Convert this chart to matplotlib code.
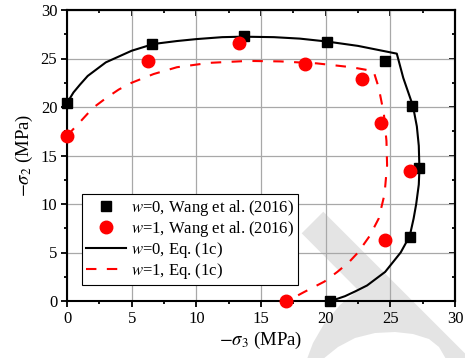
import matplotlib
matplotlib.use("Agg")
import matplotlib.pyplot as plt
from matplotlib.ticker import MultipleLocator
from matplotlib.patches import Polygon
from matplotlib.transforms import IdentityTransform

# Wang et al. (2016) test points, -sigma3 / -sigma2 in MPa
s3_w0 = [0.0, 6.6, 13.7, 20.1, 24.6, 26.7, 27.2, 26.5, 20.3]
s2_w0 = [20.4, 26.5, 27.3, 26.7, 24.7, 20.1, 13.7, 6.6, 0.0]
s3_w1 = [0.0, 6.3, 13.3, 18.4, 22.8, 24.3, 26.5, 24.6, 16.9]
s2_w1 = [17.0, 24.7, 26.6, 24.4, 22.9, 18.4, 13.4, 6.3, 0.0]

# Eq. (1c) envelopes
eq_s3_w0 = [0.0, 0.5, 1.0, 1.6, 2.2, 3.0, 4.0, 5.0, 6.7, 8.5, 10.0, 12.0, 13.6,
            16.0, 18.0, 20.1, 22.5, 25.5, 26.0, 26.75, 27.05, 27.2, 27.25, 27.2,
            27.0, 26.8, 26.5, 25.8, 25.2, 24.6, 23.8, 23.2, 22.3, 21.5, 20.4]
eq_s2_w0 = [20.4, 21.5, 22.3, 23.2, 23.8, 24.6, 25.2, 25.8, 26.5, 26.8, 27.0,
            27.2, 27.25, 27.2, 27.05, 26.75, 26.3, 25.5, 23.0, 20.1, 18.0, 16.0,
            13.6, 12.0, 10.0, 8.5, 6.7, 5.0, 4.0, 3.0, 2.2, 1.6, 1.0, 0.5, 0.0]
eq_s3_w1 = [0.0, 0.4, 0.9, 2.0, 3.0, 4.0, 5.0, 6.7, 8.5, 11.0, 14.0, 16.5, 19.3,
            22.0, 23.7, 24.1, 24.5, 24.7, 24.75, 24.55, 24.1, 23.4, 22.5, 21.8,
            20.9, 19.9, 18.3, 17.6, 17.0]
eq_s2_w1 = [17.0, 17.6, 18.3, 19.9, 20.9, 21.8, 22.5, 23.4, 24.1, 24.55, 24.75,
            24.7, 24.5, 24.1, 23.7, 22.0, 19.3, 16.5, 14.0, 11.0, 8.5, 6.7, 5.0,
            4.0, 3.0, 2.0, 0.9, 0.4, 0.0]

plt.rcParams['font.family'] = ['Liberation Serif', 'DejaVu Serif']
plt.rcParams['mathtext.fontset'] = 'stix'

W, H = 465, 358
fig = plt.figure(figsize=(W / 100, H / 100), dpi=100)


def px(pts):
    # pixel coords measured from the top-left corner
    return [(x, H - y) for x, y in pts]


# faint grey stamp behind the plot: diagonal stroke plus an arch
stamp = [(301.7, 233.3), (323.3, 211.7), (466, 354.4), (466, 359),
         (446, 359), (439, 347), (429, 339), (413, 334), (395, 332),
         (375, 333), (355, 338), (338, 347), (323, 359), (307, 359),
         (313, 343), (324, 324), (340, 305), (358, 290)]
fig.patches.append(Polygon(px(stamp), closed=True, facecolor='#e4e4e4',
                           edgecolor='none', transform=IdentityTransform(),
                           zorder=-1))

ax = fig.add_axes([67 / W, 57 / H, 388 / W, 291 / H])
ax.patch.set_alpha(0)

ax.plot(eq_s3_w0, eq_s2_w0, '-', color='k', lw=1.5, zorder=3,
        label=r'$w$=0, Eq. (1c)')
ax.plot(eq_s3_w1, eq_s2_w1, '--', color='red', lw=1.5, dashes=(5, 5), zorder=3,
        label=r'$w$=1, Eq. (1c)')
ax.plot(s3_w0, s2_w0, 's', color='k', ms=7.7, clip_on=False, zorder=4,
        label=r'$w$=0, Wang et al. (2016)')
ax.plot(s3_w1, s2_w1, 'o', color='red', ms=9, clip_on=False, zorder=5,
        label=r'$w$=1, Wang et al. (2016)')

ax.set_xlim(0, 30)
ax.set_ylim(0, 30)
for axis in (ax.xaxis, ax.yaxis):
    axis.set_major_locator(MultipleLocator(5))
    axis.set_minor_locator(MultipleLocator(2.5))
ax.grid(True, which='major', color='#a8a8a8', lw=0.9)
ax.set_axisbelow(True)

ax.tick_params(which='both', direction='out', top=False, right=False,
               labelsize=12, width=1.3, pad=2.5)
ax.tick_params(which='major', length=4.5)
ax.tick_params(which='minor', length=2.5)
for sp in ax.spines.values():
    sp.set_linewidth(1.5)

# inward ticks on the top and right edges
top = ax.secondary_xaxis('top')
right = ax.secondary_yaxis('right')
for sec, axis in ((top, top.xaxis), (right, right.yaxis)):
    axis.set_major_locator(MultipleLocator(5))
    axis.set_minor_locator(MultipleLocator(2.5))
    sec.tick_params(which='both', direction='in', width=1.3,
                    labeltop=False, labelright=False)
    sec.tick_params(which='major', length=4.5)
    sec.tick_params(which='minor', length=2.5)
    for sp in sec.spines.values():
        sp.set_linewidth(1.5)

ax.set_xlabel(r'$-\sigma_3$ (MPa)', fontsize=13.5, labelpad=2)
ax.set_ylabel(r'$-\sigma_2$ (MPa)', fontsize=13.5, labelpad=4)

handles, labels = ax.get_legend_handles_labels()
order = [2, 3, 0, 1]
leg = ax.legend([handles[i] for i in order], [labels[i] for i in order],
                loc='lower left', bbox_to_anchor=(0.038, 0.055), borderaxespad=0,
                fancybox=False, edgecolor='k', framealpha=1, fontsize=12,
                handlelength=2.4, handletextpad=0.3, labelspacing=0.06,
                borderpad=0.25)
leg.get_frame().set_linewidth(0.8)

fig.savefig('out.png', dpi=100)
